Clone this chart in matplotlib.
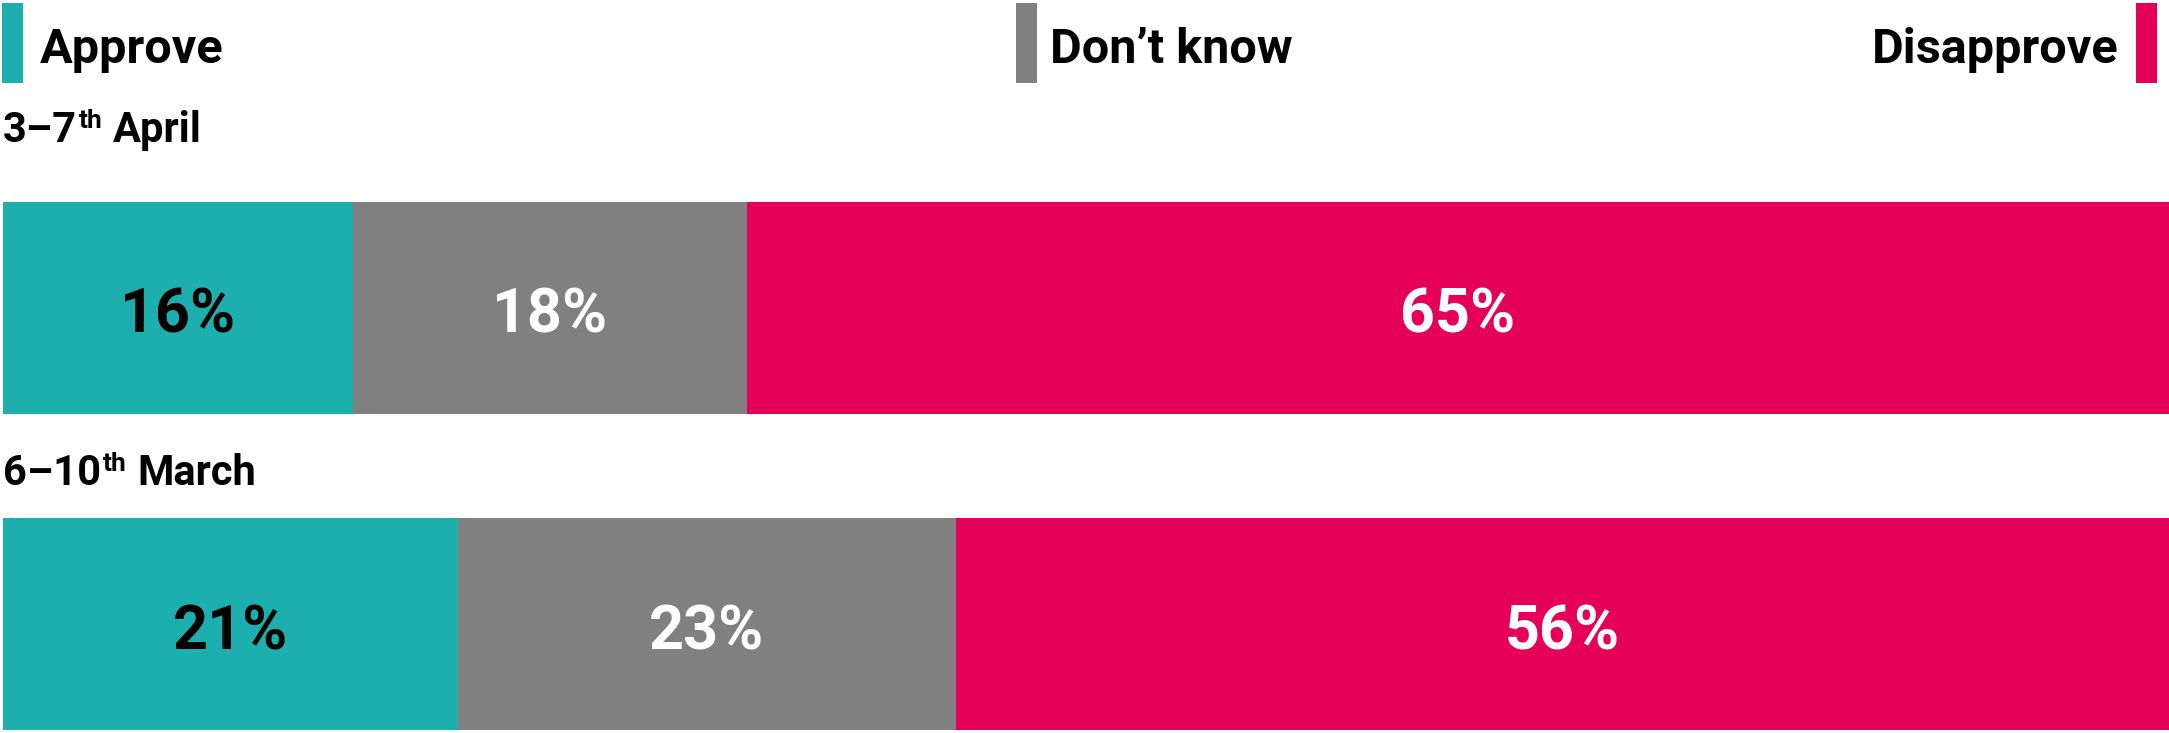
import numpy as np
import matplotlib
matplotlib.use("Agg")
import matplotlib.pyplot as plt
from matplotlib.patches import Rectangle

plt.rcParams['font.family'] = ['Roboto', 'DejaVu Sans']

# data (top row first)
periods = ['3–7', '6–10']
period_months = ['April', 'March']
categories = ['Approve', 'Don’t know', 'Disapprove']
approve = [16, 21]
dont_know = [18, 23]
disapprove = [65, 56]

colors = ['#1DAFAE', '#808080', '#E40157']
label_colors = ['black', 'white', 'white']

W, H = 2169, 733
fig = plt.figure(figsize=(W / 100, H / 100), dpi=100)
ax = fig.add_axes([3 / W, 3 / H, 2166 / W, 528 / H])

vals = np.array([approve, dont_know, disapprove], dtype=float)
totals = vals.sum(axis=0)
shares = vals / totals * 100
ypos = [1, 0]   # top row is April
left = np.zeros(2)
for i in range(3):
    ax.barh(ypos, shares[i], left=left, height=0.67, color=colors[i], linewidth=0)
    for j in range(2):
        # baseline a bit below the bar centre so the digits look centred
        ax.annotate('%d%%' % vals[i][j], xy=(left[j] + shares[i][j] / 2, ypos[j]),
                    xytext=(0, -18), textcoords='offset points',
                    ha='center', va='baseline', fontsize=44, fontweight='bold',
                    color=label_colors[i])
    left += shares[i]

ax.set_xlim(0, 100)
ax.set_ylim(-0.335, 1.335)
ax.axis('off')

# row labels with superscript "th"
base_y = [(H - 142) / H, (H - 485) / H]
for j in range(2):
    t1 = fig.text(3 / W, base_y[j], periods[j], fontsize=30, fontweight='bold', va='baseline')
    t2 = ax.annotate('th', xy=(1, base_y[j] + 14 / H), xycoords=(t1, 'figure fraction'),
                     xytext=(1, 0), textcoords='offset points',
                     fontsize=19, fontweight='bold', va='baseline', ha='left')
    ax.annotate(period_months[j], xy=(1, base_y[j]), xycoords=(t2, 'figure fraction'),
                xytext=(8, 0), textcoords='offset points',
                fontsize=30, fontweight='bold', va='baseline', ha='left')

# legend across the top
leg_y = (H - 63) / H
patch_x = [2, 1016, 2136]
for k in range(3):
    fig.patches.append(Rectangle((patch_x[k] / W, (H - 83) / H), 21 / W, 80 / H,
                                 transform=fig.transFigure, color=colors[k], linewidth=0))
fig.text(40 / W, leg_y, categories[0], fontsize=35, fontweight='bold', va='baseline', ha='left')
fig.text(1050 / W, leg_y, categories[1], fontsize=35, fontweight='bold', va='baseline', ha='left')
fig.text(2119 / W, leg_y, categories[2], fontsize=35, fontweight='bold', va='baseline', ha='right')

fig.savefig('out.png', dpi=100)
